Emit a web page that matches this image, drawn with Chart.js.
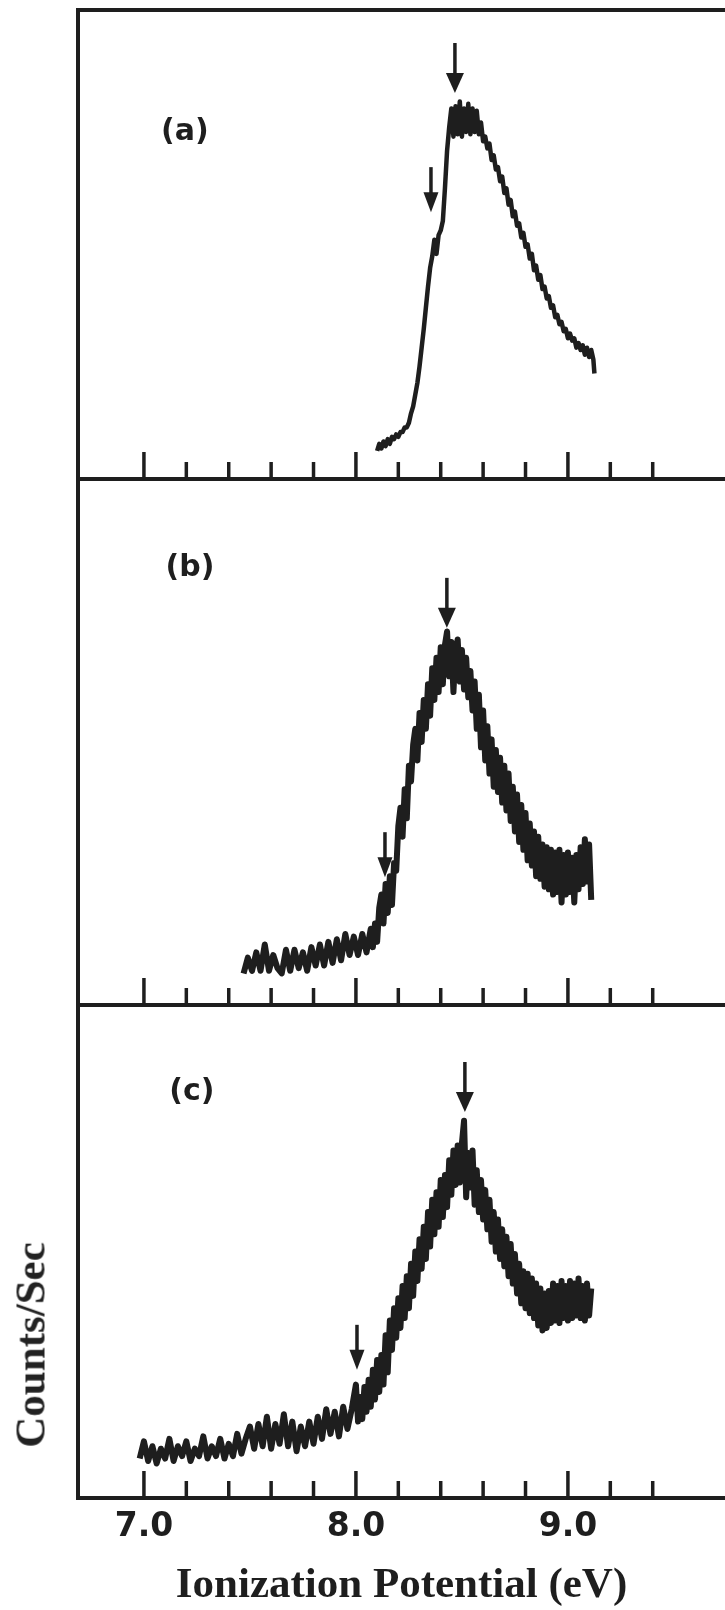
<!DOCTYPE html>
<html lang="en">
  <head>
    <meta charset="UTF-8" />
    <title>Ionization Potential spectra (a)-(c)</title>
    <script src="https://cdn.jsdelivr.net/npm/chart.js"></script>
    <style>
      * {
        margin: 0;
        padding: 0;
        box-sizing: border-box;
      }
      body {
        width: 725px;
        height: 1610px;
        background: #fff;
        position: relative;
        overflow: hidden;
      }
      canvas {
        position: absolute;
        left: 0;
      }
      #panelA {
        top: 0;
      }
      #panelB {
        top: 477px;
      }
      #panelC {
        top: 1003px;
      }
      .ytitle {
        position: absolute;
        left: 30px;
        top: 1345px;
        transform: translate(-50%, -50%) rotate(-90deg);
        font: bold 43px "Liberation Serif", serif;
        color: #222;
        white-space: nowrap;
        line-height: 1;
      }
    </style>
  </head>
  <body>
    <canvas id="panelA" width="725" height="482"></canvas>
    <canvas id="panelB" width="725" height="530"></canvas>
    <canvas id="panelC" width="725" height="607"></canvas>
    <div class="ytitle">Counts/Sec</div>

    <script>
      // x axis ticks (eV)
      const tickValues = [7.0, 7.2, 7.4, 7.6, 7.8, 8.0, 8.2, 8.4, 8.6, 8.8, 9.0, 9.2, 9.4];
      const tickLabels = [7.0, 8.0, 9.0];

      // panel (a)
      const energyA = [
        8.10, 8.11, 8.12, 8.13, 8.14, 8.15, 8.16, 8.17, 8.18, 8.19, 8.20, 8.21, 8.22, 8.23, 8.24, 8.25,
        8.26, 8.27, 8.28, 8.29, 8.30, 8.31, 8.32, 8.33, 8.34, 8.35, 8.36, 8.37, 8.38, 8.39, 8.40, 8.41,
        8.42, 8.43, 8.44, 8.45, 8.46, 8.47, 8.48, 8.49, 8.50, 8.51, 8.52, 8.53, 8.54, 8.55, 8.56, 8.57,
        8.58, 8.59, 8.60, 8.61, 8.62, 8.63, 8.64, 8.65, 8.66, 8.67, 8.68, 8.69, 8.70, 8.71, 8.72, 8.73,
        8.74, 8.75, 8.76, 8.77, 8.78, 8.79, 8.80, 8.81, 8.82, 8.83, 8.84, 8.85, 8.86, 8.87, 8.88, 8.89,
        8.90, 8.91, 8.92, 8.93, 8.94, 8.95, 8.96, 8.97, 8.98, 8.99, 9.00, 9.01, 9.02, 9.03, 9.04, 9.05,
        9.06, 9.07, 9.08, 9.09, 9.10, 9.11, 9.12, 9.125,
      ];
      const countsA = [
        6.0, 7.5, 6.5, 8.0, 7.0, 8.5, 7.5, 9.0, 8.5, 9.5, 9.0, 10.0, 10.0, 11.0, 11.0, 12.0,
        14.0, 15.5, 18.0, 20.5, 24.0, 28.0, 32.0, 36.5, 41.0, 45.0, 47.5, 51.0, 48.0, 52.0, 53.0, 55.0,
        62.0, 70.0, 75.0, 79.0, 73.0, 79.5, 73.5, 80.5, 73.0, 79.0, 74.0, 80.0, 73.5, 79.0, 74.0, 78.5,
        73.5, 76.0, 72.0, 73.0, 70.5, 71.5, 68.0, 69.0, 66.0, 66.5, 63.5, 64.5, 61.0, 62.0, 58.5, 59.5,
        56.0, 57.0, 54.0, 54.5, 51.5, 52.5, 49.5, 50.0, 47.0, 48.0, 44.5, 45.5, 42.5, 43.5, 40.5, 41.0,
        38.5, 39.0, 36.5, 37.0, 34.5, 35.0, 33.0, 33.5, 31.5, 32.0, 30.0, 31.0, 29.5, 30.0, 28.0, 29.0,
        27.5, 28.5, 26.5, 28.0, 26.0, 27.5, 25.5, 22.5,
      ];

      // panel (b)
      const energyB = [
        7.47, 7.49, 7.51, 7.53, 7.55, 7.57, 7.59, 7.61, 7.63, 7.65, 7.67, 7.69, 7.71, 7.73, 7.75, 7.77,
        7.79, 7.81, 7.83, 7.85, 7.87, 7.89, 7.91, 7.93, 7.95, 7.97, 7.99, 8.01, 8.03, 8.05, 8.07, 8.08,
        8.09, 8.10, 8.11, 8.12, 8.13, 8.14, 8.15, 8.16, 8.17, 8.18, 8.19, 8.20, 8.21, 8.22, 8.23, 8.24,
        8.25, 8.26, 8.27, 8.28, 8.29, 8.30, 8.31, 8.32, 8.33, 8.34, 8.35, 8.36, 8.37, 8.38, 8.39, 8.40,
        8.41, 8.42, 8.43, 8.44, 8.45, 8.46, 8.47, 8.48, 8.49, 8.50, 8.51, 8.52, 8.53, 8.54, 8.55, 8.56,
        8.57, 8.58, 8.59, 8.60, 8.61, 8.62, 8.63, 8.64, 8.65, 8.66, 8.67, 8.68, 8.69, 8.70, 8.71, 8.72,
        8.73, 8.74, 8.75, 8.76, 8.77, 8.78, 8.79, 8.80, 8.81, 8.82, 8.83, 8.84, 8.85, 8.86, 8.87, 8.88,
        8.89, 8.90, 8.91, 8.92, 8.93, 8.94, 8.95, 8.96, 8.97, 8.98, 8.99, 9.00, 9.01, 9.02, 9.03, 9.04,
        9.05, 9.06, 9.07, 9.08, 9.09, 9.10, 9.11,
      ];
      const countsB = [
        6.0, 9.0, 6.5, 10.0, 6.5, 11.5, 6.5, 9.5, 7.0, 6.0, 10.5, 6.5, 10.5, 7.0, 10.0, 6.5,
        11.0, 7.5, 11.5, 7.5, 12.0, 8.0, 12.5, 8.5, 13.5, 9.5, 13.0, 9.5, 13.5, 10.0, 14.5, 11.0,
        15.5, 12.0, 18.5, 21.0, 15.5, 23.0, 17.5, 24.5, 19.0, 27.0, 25.5, 34.0, 37.5, 32.0, 41.0, 35.5,
        45.5, 42.5, 49.5, 52.5, 46.5, 55.5, 50.0, 58.0, 52.5, 61.0, 55.0, 64.0, 58.0, 66.0, 59.5, 68.0,
        61.0, 68.5, 71.0, 62.5, 69.0, 59.5, 67.5, 69.5, 61.5, 67.5, 60.0, 66.0, 58.5, 63.5, 56.0, 61.5,
        52.5, 59.0, 49.0, 56.0, 46.5, 53.0, 44.0, 50.5, 41.5, 48.5, 40.5, 47.0, 38.5, 45.5, 37.0, 44.0,
        35.0, 41.5, 33.0, 40.0, 31.0, 38.0, 29.5, 36.5, 27.5, 34.5, 26.5, 33.0, 24.5, 32.0, 24.0, 30.5,
        22.5, 30.0, 22.0, 29.5, 21.0, 29.0, 21.5, 29.5, 19.5, 28.5, 21.0, 29.0, 21.5, 28.0, 19.5, 28.5,
        22.0, 30.0, 23.0, 31.5, 23.5, 30.5, 20.0,
      ];

      // panel (c)
      const energyC = [
        6.98, 7.00, 7.02, 7.04, 7.06, 7.08, 7.10, 7.12, 7.14, 7.16, 7.18, 7.20, 7.22, 7.24, 7.26, 7.28,
        7.30, 7.32, 7.34, 7.36, 7.38, 7.40, 7.42, 7.44, 7.46, 7.48, 7.50, 7.52, 7.54, 7.56, 7.58, 7.60,
        7.62, 7.64, 7.66, 7.68, 7.70, 7.72, 7.74, 7.76, 7.78, 7.80, 7.82, 7.84, 7.86, 7.88, 7.90, 7.92,
        7.94, 7.96, 7.98, 8.00, 8.01, 8.02, 8.03, 8.04, 8.05, 8.06, 8.07, 8.08, 8.09, 8.10, 8.11, 8.12,
        8.13, 8.14, 8.15, 8.16, 8.17, 8.18, 8.19, 8.20, 8.21, 8.22, 8.23, 8.24, 8.25, 8.26, 8.27, 8.28,
        8.29, 8.30, 8.31, 8.32, 8.33, 8.34, 8.35, 8.36, 8.37, 8.38, 8.39, 8.40, 8.41, 8.42, 8.43, 8.44,
        8.45, 8.46, 8.47, 8.48, 8.49, 8.50, 8.51, 8.52, 8.53, 8.54, 8.55, 8.56, 8.57, 8.58, 8.59, 8.60,
        8.61, 8.62, 8.63, 8.64, 8.65, 8.66, 8.67, 8.68, 8.69, 8.70, 8.71, 8.72, 8.73, 8.74, 8.75, 8.76,
        8.77, 8.78, 8.79, 8.80, 8.81, 8.82, 8.83, 8.84, 8.85, 8.86, 8.87, 8.88, 8.89, 8.90, 8.91, 8.92,
        8.93, 8.94, 8.95, 8.96, 8.97, 8.98, 8.99, 9.00, 9.01, 9.02, 9.03, 9.04, 9.05, 9.06, 9.07, 9.08,
        9.09, 9.10, 9.11,
      ];
      const countsC = [
        8.0, 11.5, 7.5, 10.5, 7.0, 10.0, 8.0, 12.0, 7.5, 10.5, 8.5, 11.5, 7.5, 10.0, 8.5, 12.5,
        8.0, 10.5, 8.5, 12.0, 8.0, 11.0, 8.5, 13.0, 9.0, 12.0, 14.5, 10.0, 15.0, 10.5, 16.5, 10.0,
        15.0, 11.0, 17.0, 10.5, 15.5, 9.5, 14.5, 10.5, 15.5, 11.0, 16.5, 12.0, 18.0, 13.0, 17.5, 12.5,
        18.5, 14.0, 18.0, 23.0, 15.5, 20.5, 16.0, 22.5, 17.5, 24.0, 18.5, 26.0, 20.0, 28.0, 21.5, 29.0,
        23.0, 33.0, 25.5, 36.0, 30.0, 38.5, 32.5, 40.5, 34.5, 43.0, 36.5, 45.0, 38.5, 47.5, 41.0, 50.0,
        44.0, 52.5, 46.5, 55.0, 48.5, 58.0, 51.0, 60.5, 53.5, 62.0, 55.0, 64.5, 57.0, 65.5, 59.0, 68.5,
        61.5, 70.5, 63.5, 71.5, 64.0, 72.0, 76.5, 61.0, 70.0, 63.0, 70.5, 59.5, 66.5, 58.0, 64.5, 56.5,
        62.5, 54.5, 60.5, 52.0, 58.0, 50.0, 56.5, 48.5, 54.5, 47.0, 53.0, 45.0, 51.5, 43.5, 49.5, 41.5,
        47.5, 39.5, 46.0, 38.5, 45.5, 37.5, 44.5, 36.5, 43.5, 35.0, 42.5, 34.0, 41.5, 34.5, 42.0, 35.5,
        43.5, 36.0, 43.0, 35.5, 44.0, 36.5, 43.0, 36.0, 44.0, 36.5, 43.5, 37.0, 44.5, 36.5, 43.0, 36.0,
        43.5, 37.0, 42.5,
      ];

      // annotations, one entry per panel (a, b, c)
      const panelLabels = ["(a)", "(b)", "(c)"];
      const labelEnergy = [7.193, 7.217, 7.226];
      const labelCounts = [74.0, 83.0, 82.4];
      const peakArrowEnergy = [8.467, 8.429, 8.514];
      const peakArrowCounts = [82.3, 71.7, 78.3];
      const onsetArrowEnergy = [8.354, 8.137, 8.005];
      const onsetArrowCounts = [56.9, 24.3, 26.0];

      const ink = "#1e1e1e";
      const xMin = 6.689;
      const xMax = 9.741;
      const traceWidth = [4.5, 6, 6];

      function drawArrow(ctx, px, tipY, len, headLen, headW) {
        ctx.lineWidth = 3.5;
        ctx.beginPath();
        ctx.moveTo(px, tipY - len);
        ctx.lineTo(px, tipY - headLen + 2);
        ctx.stroke();
        ctx.beginPath();
        ctx.moveTo(px - headW / 2, tipY - headLen);
        ctx.lineTo(px + headW / 2, tipY - headLen);
        ctx.lineTo(px, tipY);
        ctx.closePath();
        ctx.fill();
      }

      // inward ticks, arrows and the (a)/(b)/(c) labels
      const marksPlugin = {
        id: "marks",
        afterDatasetsDraw(chart, args, opts) {
          const { ctx, chartArea } = chart;
          const x = chart.scales.x;
          const y = chart.scales.y;
          const i = opts.panel;
          ctx.save();
          ctx.strokeStyle = ink;
          ctx.fillStyle = ink;
          ctx.lineWidth = 3.5;
          tickValues.forEach((v) => {
            const px = x.getPixelForValue(v);
            const len = tickLabels.includes(v) ? 27 : 17;
            ctx.beginPath();
            ctx.moveTo(px, chartArea.bottom);
            ctx.lineTo(px, chartArea.bottom - len);
            ctx.stroke();
          });
          drawArrow(ctx, x.getPixelForValue(peakArrowEnergy[i]), y.getPixelForValue(peakArrowCounts[i]), 50, 20, 18);
          drawArrow(ctx, x.getPixelForValue(onsetArrowEnergy[i]), y.getPixelForValue(onsetArrowCounts[i]), 45, 20, 15);
          ctx.font = "bold 30px 'DejaVu Sans'";
          ctx.textAlign = "center";
          ctx.textBaseline = "middle";
          ctx.fillText(panelLabels[i], x.getPixelForValue(labelEnergy[i]), y.getPixelForValue(labelCounts[i]));
          ctx.restore();
        },
      };

      function makePanel(id, energies, counts, panel, padTop, padBottom) {
        const isBottom = panel === 2;
        const scales = {
          x: {
            type: "linear",
            min: xMin,
            max: xMax,
            grid: { display: false, drawTicks: false },
            border: { display: true, width: 4, color: ink },
            afterBuildTicks: (s) => {
              s.ticks = tickLabels.map((v) => ({ value: v }));
            },
            ticks: {
              display: isBottom,
              autoSkip: false,
              maxRotation: 0,
              padding: 10,
              color: ink,
              font: { family: "DejaVu Sans", weight: "bold", size: 33 },
              callback: (v) => Number(v).toFixed(1),
            },
            title: {
              display: isBottom,
              text: "Ionization Potential (eV)",
              color: ink,
              font: { family: "Liberation Serif", weight: "bold", size: 43, lineHeight: 1 },
              padding: { top: 0, bottom: 3 },
            },
            afterFit: (s) => {
              s.height = isBottom ? 112 : 0;
            },
          },
          y: {
            min: 0,
            max: 100,
            grid: { display: false, drawTicks: false },
            border: { display: true, width: 4, color: ink },
            ticks: { display: false },
            afterFit: (s) => {
              s.width = 78;
            },
          },
        };
        if (panel === 0) {
          scales.xTop = {
            type: "linear",
            position: "top",
            min: xMin,
            max: xMax,
            grid: { display: false, drawTicks: false },
            ticks: { display: false },
            border: { display: true, width: 4, color: ink },
            afterFit: (s) => {
              s.height = 0;
            },
          };
        }
        return new Chart(document.getElementById(id), {
          type: "line",
          data: {
            datasets: [
              {
                data: energies.map((e, k) => ({ x: e, y: counts[k] })),
                borderColor: ink,
                borderWidth: traceWidth[panel],
                borderJoinStyle: "round",
                pointRadius: 0,
                tension: 0,
                fill: false,
              },
            ],
          },
          options: {
            responsive: false,
            animation: false,
            events: [],
            layout: { padding: { top: padTop, bottom: padBottom, left: 0, right: 0 } },
            scales: scales,
            plugins: {
              legend: { display: false },
              tooltip: { enabled: false },
              marks: { panel: panel },
            },
          },
          plugins: [marksPlugin],
        });
      }

      makePanel("panelA", energyA, countsA, 0, 10, 3);
      makePanel("panelB", energyB, countsB, 1, 2, 2);
      makePanel("panelC", energyC, countsC, 2, 2, 0);
    </script>
  </body>
</html>
